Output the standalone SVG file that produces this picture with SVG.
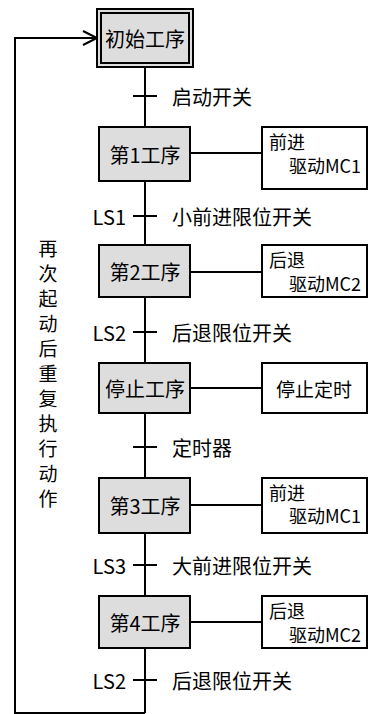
<svg xmlns="http://www.w3.org/2000/svg" width="375" height="714" viewBox="0 0 375 714">
<style>
text{font-family:"Noto Sans CJK SC","Noto Sans",sans-serif;fill:#000}
.step{fill:#dddddd;stroke:#000;stroke-width:2}
.act{fill:#fff;stroke:#000;stroke-width:2}
.ln{fill:none;stroke:#000;stroke-width:2}
.st{font-size:20px;text-anchor:middle;dominant-baseline:central}
.lb{font-size:20px;dominant-baseline:central}
.ls{font-size:20px;text-anchor:end;dominant-baseline:central}
.at{font-size:18px;dominant-baseline:central}
.vt{font-size:19px;text-anchor:middle;dominant-baseline:central}
</style>
<rect width="375" height="714" fill="#fff"/>
<g id="connectors">
<line class="ln" x1="145" y1="67" x2="145" y2="713"/>
<polyline class="ln" points="145,713 15,713 15,38 97,38"/>
<polyline class="ln" points="83,31 97,38 83,45"/>
<line class="ln" x1="133" y1="96" x2="157" y2="96"/>
<line class="ln" x1="133" y1="216" x2="157" y2="216"/>
<line class="ln" x1="133" y1="332" x2="157" y2="332"/>
<line class="ln" x1="133" y1="447" x2="157" y2="447"/>
<line class="ln" x1="133" y1="565" x2="157" y2="565"/>
<line class="ln" x1="133" y1="680" x2="157" y2="680"/>
<line class="ln" x1="190" y1="153" x2="262" y2="153"/>
<line class="ln" x1="190" y1="272" x2="262" y2="272"/>
<line class="ln" x1="190" y1="388" x2="262" y2="388"/>
<line class="ln" x1="190" y1="505" x2="262" y2="505"/>
<line class="ln" x1="190" y1="622" x2="262" y2="622"/>
</g>
<g id="init">
<rect class="step" x="97" y="9" width="96" height="58"/>
<rect class="ln" x="101" y="13" width="88" height="50"/>
<text class="st" x="145" y="38">初始工序</text>
</g>
<g id="step1">
<rect class="step" x="99" y="127" width="91" height="54"/>
<text class="st" x="145" y="154">第1工序</text>
</g>
<g id="act1">
<rect class="act" x="262" y="127" width="105" height="62"/>
<text class="at" x="269" y="141">前进</text>
<text class="at" x="289" y="165">驱动MC1</text>
</g>
<g id="step2">
<rect class="step" x="99" y="245" width="91" height="52"/>
<text class="st" x="145" y="271">第2工序</text>
</g>
<g id="act2">
<rect class="act" x="262" y="245" width="105" height="52"/>
<text class="at" x="269" y="259">后退</text>
<text class="at" x="289" y="283">驱动MC2</text>
</g>
<g id="stop">
<rect class="step" x="99" y="363" width="91" height="50"/>
<text class="st" x="145" y="388">停止工序</text>
</g>
<g id="act-stop">
<rect class="act" x="262" y="363" width="105" height="50"/>
<text class="at" x="314" y="388" text-anchor="middle" style="font-size:19px">停止定时</text>
</g>
<g id="step3">
<rect class="step" x="99" y="478" width="91" height="55"/>
<text class="st" x="145" y="505">第3工序</text>
</g>
<g id="act3">
<rect class="act" x="262" y="478" width="105" height="55"/>
<text class="at" x="269" y="492">前进</text>
<text class="at" x="289" y="515">驱动MC1</text>
</g>
<g id="step4">
<rect class="step" x="99" y="596" width="91" height="52"/>
<text class="st" x="145" y="622">第4工序</text>
</g>
<g id="act4">
<rect class="act" x="262" y="596" width="105" height="52"/>
<text class="at" x="269" y="610">后退</text>
<text class="at" x="289" y="634">驱动MC2</text>
</g>
<g id="labels">
<text class="lb" x="172" y="96">启动开关</text>
<text class="ls" x="126" y="216">LS1</text>
<text class="lb" x="172" y="216">小前进限位开关</text>
<text class="ls" x="126" y="332">LS2</text>
<text class="lb" x="172" y="332">后退限位开关</text>
<text class="lb" x="172" y="447">定时器</text>
<text class="ls" x="126" y="565">LS3</text>
<text class="lb" x="172" y="565">大前进限位开关</text>
<text class="ls" x="126" y="680">LS2</text>
<text class="lb" x="172" y="680">后退限位开关</text>
</g>
<g id="loop-label">
<text class="vt" x="48" y="247">再</text>
<text class="vt" x="48" y="272">次</text>
<text class="vt" x="48" y="297">起</text>
<text class="vt" x="48" y="322">动</text>
<text class="vt" x="48" y="347">后</text>
<text class="vt" x="48" y="372">重</text>
<text class="vt" x="48" y="397">复</text>
<text class="vt" x="48" y="422">执</text>
<text class="vt" x="48" y="447">行</text>
<text class="vt" x="48" y="472">动</text>
<text class="vt" x="48" y="497">作</text>
</g>
</svg>
